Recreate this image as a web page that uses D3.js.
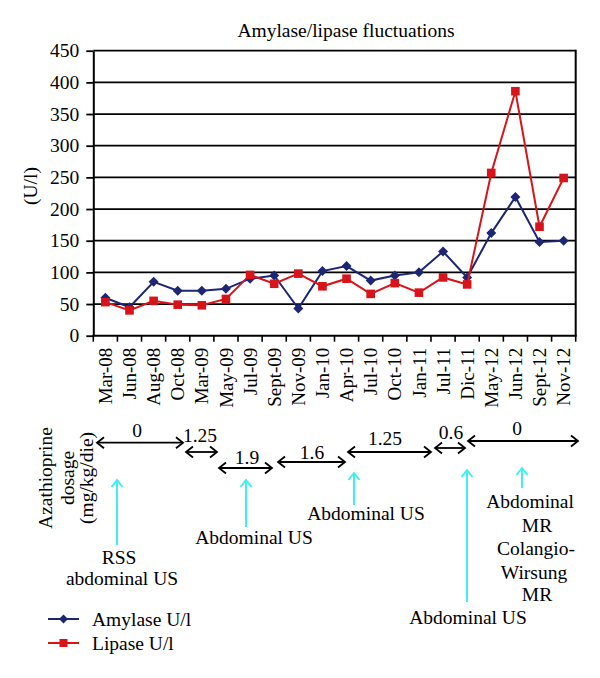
<!DOCTYPE html>
<html><head><meta charset="utf-8">
<script src="https://cdn.jsdelivr.net/npm/d3@7"></script>
<style>html,body{margin:0;padding:0;background:#fff}svg{display:block}</style>
</head><body>
<script>
// ---- data ----
const categories = ["Mar-08","Jun-08","Aug-08","Oct-08","Mar-09","May-09","Jul-09","Sept-09","Nov-09","Jan-10","Apr-10","Jul-10","Oct-10","Jan-11","Jul-11","Dic-11","May-12","Jun-12","Sept-12","Nov-12"];
const amylase = [60, 45, 85, 71, 71, 74, 90, 95, 43, 102, 110, 87, 95, 100, 133, 92, 162, 219, 148, 150];
const lipase  = [53, 40, 55, 49, 48, 58, 96, 82, 98, 78, 90, 66, 83, 68, 92, 81, 257, 386, 172, 249];
const yTicks = [0, 50, 100, 150, 200, 250, 300, 350, 400, 450];
const seriesNames = ["Amylase U/l", "Lipase U/l"];
const dosageLabels = ["0", "1.25", "1.9", "1.6", "1.25", "0.6", "0"];
const examLabels = [["RSS","abdominal US"],["Abdominal US"],["Abdominal US"],["Abdominal US"],["Abdominal","MR","Colangio-","Wirsung","MR"]];

// ---- layout (annotation panel geometry) ----
const dosageLayout = [
  {y:442.7, x1:97,  x2:183, lx:137, ly:430},
  {y:452,   x1:186, x2:217, lx:200, ly:435},
  {y:468,   x1:219, x2:272, lx:247, ly:457},
  {y:462,   x1:278, x2:345, lx:312, ly:452},
  {y:452,   x1:348, x2:431, lx:385, ly:438},
  {y:448,   x1:435, x2:465, lx:451, ly:432},
  {y:441,   x1:468, x2:578, lx:517, ly:428}
];
const examLayout = [
  {x:117, top:480, bottom:545, lx:[119,122], ly:[557,578]},
  {x:246, top:480, bottom:527, lx:[254], ly:[537]},
  {x:354, top:473, bottom:505, lx:[366], ly:[513]},
  {x:467, top:470, bottom:602, lx:[468], ly:[617]},
  {x:522, top:468, bottom:488, lx:[530,537,536,534,537], ly:[501,525,548,572,594]}
];

const FONT = '"Liberation Serif","Times New Roman",serif';
const AMY = "#1c2675", LIP = "#d7141a", CYAN = "#3ff0f0";
const FS = 19.5;

const svg = d3.select("body").append("svg").attr("width",600).attr("height",678)
  .style("font-family", FONT);

const x = d3.scaleBand().domain(categories).range([93.3, 575.7]);
const y = d3.scaleLinear().domain([0, 450]).range([335.7, 50.7]);
const cx = c => x(c) + x.bandwidth()/2;

// title
svg.append("text").attr("x", 346).attr("y", 30).attr("dy","0.35em")
  .attr("text-anchor","middle").attr("font-size", FS).text("Amylase/lipase fluctuations");

// gridlines
svg.append("g").selectAll("line").data(yTicks.filter(t => t > 0)).join("line")
  .attr("x1", 93.3).attr("x2", 575.7).attr("y1", d => y(d)).attr("y2", d => y(d))
  .attr("stroke", "#000").attr("stroke-width", 1.8);
// right border
svg.append("line").attr("x1", 575.7).attr("x2", 575.7).attr("y1", y(450)-0.9).attr("y2", y(0))
  .attr("stroke","#000").attr("stroke-width", 2);

// y axis
const ya = svg.append("g").attr("transform", "translate(93.3,0)")
  .call(d3.axisLeft(y).tickValues(yTicks).tickSize(7).tickPadding(7).tickSizeOuter(0));
ya.select(".domain").attr("stroke-width", 2);
ya.selectAll(".tick line").attr("stroke-width", 1.8);
ya.selectAll("text").attr("font-size", FS).attr("font-family", FONT).attr("fill","#000");

// x axis: line + ticks at band edges
const xa = svg.append("g").attr("transform", `translate(0,${y(0)})`);
xa.append("line").attr("x1", 92.3).attr("x2", 576.7).attr("stroke","#000").attr("stroke-width",2);
const edges = categories.map(c => x(c)).concat([x.range()[1]]);
xa.selectAll("line.t").data(edges).join("line").attr("class","t")
  .attr("x1", d => d).attr("x2", d => d).attr("y1", 0).attr("y2", 6)
  .attr("stroke","#000").attr("stroke-width",1.6);
xa.selectAll("text").data(categories).join("text")
  .attr("transform", d => `translate(${cx(d)},12) rotate(-90)`)
  .attr("text-anchor","end").attr("dy","0.35em").attr("font-size", 19).text(d => d);

// y axis title
svg.append("text").attr("transform","translate(30,186) rotate(-90)").attr("dy","0.35em")
  .attr("text-anchor","middle").attr("font-size", FS).text("(U/l)");

// series
const line = d3.line().x((d,i) => cx(categories[i])).y(d => y(d));
const diamond = (s) => `M0,${-s}L${s},0L0,${s}L${-s},0Z`;
svg.append("path").datum(amylase).attr("d", line).attr("fill","none").attr("stroke", AMY).attr("stroke-width", 2);
svg.append("g").selectAll("path").data(amylase).join("path")
  .attr("transform",(d,i)=>`translate(${cx(categories[i])},${y(d)})`).attr("d", diamond(5)).attr("fill", AMY);
svg.append("path").datum(lipase).attr("d", line).attr("fill","none").attr("stroke", LIP).attr("stroke-width", 2);
svg.append("g").selectAll("rect").data(lipase).join("rect")
  .attr("x",(d,i)=>cx(categories[i])-4.3).attr("y", d => y(d)-4.3).attr("width",8.6).attr("height",8.6).attr("fill", LIP);

// Azathioprine label
const az = svg.append("g").attr("font-size", FS);
[["Azathioprine",45],["dosage",67],["(mg/kg/die)",86]].forEach(([t,xx]) => {
  az.append("text").attr("transform", `translate(${xx},478) rotate(-90)`).attr("dy","0.35em")
    .attr("text-anchor","middle").text(t);
});

// dosage double arrows
function chevron(g, x0, y0, dir, color, w) { // dir: 'l','r','u'
  const L = 7, Hh = 5.5;
  let p;
  if (dir === 'l') p = `M${x0+L},${y0-Hh}L${x0},${y0}L${x0+L},${y0+Hh}`;
  else if (dir === 'r') p = `M${x0-L},${y0-Hh}L${x0},${y0}L${x0-L},${y0+Hh}`;
  else p = `M${x0-Hh},${y0+L}L${x0},${y0}L${x0+Hh},${y0+L}`;
  g.append("path").attr("d", p).attr("fill","none").attr("stroke", color).attr("stroke-width", w)
    .attr("stroke-linejoin","miter");
}
const dg = svg.append("g");
dosageLabels.forEach((lab, i) => {
  const L = dosageLayout[i];
  dg.append("line").attr("x1", L.x1).attr("x2", L.x2).attr("y1", L.y).attr("y2", L.y)
    .attr("stroke","#000").attr("stroke-width", 1.8);
  chevron(dg, L.x1, L.y, 'l', "#000", 1.8);
  chevron(dg, L.x2, L.y, 'r', "#000", 1.8);
  dg.append("text").attr("x", L.lx).attr("y", L.ly).attr("dy","0.35em").attr("text-anchor","middle")
    .attr("font-size", FS).text(lab);
});

// exam arrows
const eg = svg.append("g");
examLabels.forEach((labs, i) => {
  const L = examLayout[i];
  eg.append("line").attr("x1", L.x).attr("x2", L.x).attr("y1", L.top).attr("y2", L.bottom)
    .attr("stroke", CYAN).attr("stroke-width", 2);
  chevron(eg, L.x, L.top, 'u', CYAN, 2);
  labs.forEach((t, j) => {
    eg.append("text").attr("x", L.lx[j]).attr("y", L.ly[j]).attr("dy","0.35em")
      .attr("text-anchor","middle").attr("font-size", FS).text(t);
  });
});

// legend
const lg = svg.append("g");
[[AMY, 619, 'd'], [LIP, 643, 's']].forEach(([col, yy, m], i) => {
  lg.append("line").attr("x1", 48).attr("x2", 79).attr("y1", yy).attr("y2", yy).attr("stroke", col).attr("stroke-width", 2);
  if (m === 'd') lg.append("path").attr("transform", `translate(63.5,${yy})`).attr("d", diamond(4.5)).attr("fill", col);
  else lg.append("rect").attr("x", 59.5).attr("y", yy-4).attr("width", 8).attr("height", 8).attr("fill", col);
  lg.append("text").attr("x", 92).attr("y", yy).attr("dy","0.35em").attr("font-size", FS).text(seriesNames[i]);
});
</script>
</body></html>
